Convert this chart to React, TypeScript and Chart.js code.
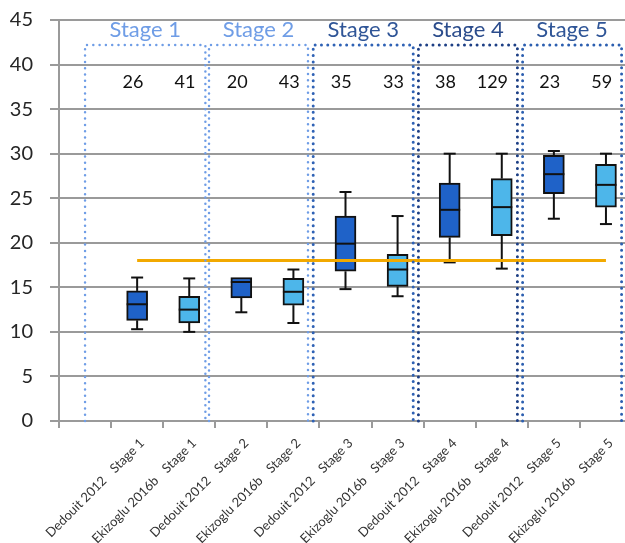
import React, { useEffect, useRef } from 'react';
import { Chart, registerables } from 'chart.js';

Chart.register(...registerables);

// ---- data ----
const sources = ['Dedouit 2012', 'Ekizoglu 2016b', 'Dedouit 2012', 'Ekizoglu 2016b', 'Dedouit 2012', 'Ekizoglu 2016b', 'Dedouit 2012', 'Ekizoglu 2016b', 'Dedouit 2012', 'Ekizoglu 2016b'];
const stageOf = ['Stage 1', 'Stage 1', 'Stage 2', 'Stage 2', 'Stage 3', 'Stage 3', 'Stage 4', 'Stage 4', 'Stage 5', 'Stage 5'];
const whiskerMin = [10.3, 10.0, 12.2, 11.0, 14.8, 14.0, 17.8, 17.1, 22.7, 22.1];
const q1 = [11.3, 11.0, 13.8, 13.0, 16.8, 15.1, 20.6, 20.8, 25.5, 24.0];
const median = [13.1, 12.5, 15.6, 14.5, 19.9, 17.0, 23.7, 24.0, 27.7, 26.5];
const q3 = [14.6, 14.0, 16.1, 16.0, 23.0, 18.7, 26.7, 27.2, 29.8, 28.8];
const whiskerMax = [16.1, 16.0, 16.1, 17.0, 25.7, 23.0, 30.0, 30.0, 30.3, 30.0];
const sampleSizes = ['26', '41', '20', '43', '35', '33', '38', '129', '23', '59'];
const threshold = 18;
const stageTitles = ['Stage 1', 'Stage 2', 'Stage 3', 'Stage 4', 'Stage 5'];
// stage frame spans in category-index units
const stageStart = [0.0, 2.38, 4.38, 6.4, 8.4];
const stageEnd = [2.31, 4.28, 6.3, 8.3, 10.3];
const stageTop = 42.2;
const stageTitleValue = 43.9;
const sampleLabelValue = 38.0;
const yTicksMax = 45;
const yTicksStep = 5;

// ---- styles ----
const darkBox = '#1f62c8';
const lightBox = '#4db6ea';
const stageFrameColors = ['#6f9de6', '#6f9de6', '#2f62b5', '#1d3f85', '#2c5fb0'];
const stageTitleColors = ['#6f9de6', '#6f9de6', '#2f5597', '#2b4c8c', '#2f5597'];
const gridColor = '#9a9a9a';
const FONT = 'Lato, "Open Sans", sans-serif';

const labels = ['', ...sources.map((s, i) => s + ' ' + stageOf[i])];

const boxPlugin = {
  id: 'boxExtras',
  afterDatasetDraw(chart: any, args: any) {
    if (args.index !== 0) return;
    const { ctx, scales } = chart;
    const x = scales.x;
    const y = scales.y;
    const meta = chart.getDatasetMeta(0);
    ctx.save();
    ctx.strokeStyle = '#111';
    ctx.lineWidth = 2;
    ctx.lineCap = 'butt';
    const cap = 6;
    for (let i = 0; i < q1.length; i++) {
      const cx = x.getPixelForValue(i + 1);
      const el = meta.data[i + 1];
      const half = el ? el.width / 2 : 10.5;
      const line = (x1: number, y1: number, x2: number, y2: number) => {
        ctx.beginPath();
        ctx.moveTo(x1, y1);
        ctx.lineTo(x2, y2);
        ctx.stroke();
      };
      if (whiskerMax[i] > q3[i]) {
        line(cx, y.getPixelForValue(q3[i]), cx, y.getPixelForValue(whiskerMax[i]));
        line(cx - cap, y.getPixelForValue(whiskerMax[i]), cx + cap, y.getPixelForValue(whiskerMax[i]));
      }
      if (whiskerMin[i] < q1[i]) {
        line(cx, y.getPixelForValue(q1[i]), cx, y.getPixelForValue(whiskerMin[i]));
        line(cx - cap, y.getPixelForValue(whiskerMin[i]), cx + cap, y.getPixelForValue(whiskerMin[i]));
      }
      line(cx - half, y.getPixelForValue(median[i]), cx + half, y.getPixelForValue(median[i]));
    }
    ctx.restore();
  },
};

const overlayPlugin = {
  id: 'overlay',
  afterDraw(chart: any) {
    const { ctx, scales } = chart;
    const x = scales.x;
    const y = scales.y;
    ctx.save();
    // stage frames
    for (let s = 0; s < stageTitles.length; s++) {
      const l = x.getPixelForValue(stageStart[s]);
      const r = x.getPixelForValue(stageEnd[s]);
      const t = y.getPixelForValue(stageTop);
      const b = y.getPixelForValue(0);
      ctx.strokeStyle = stageFrameColors[s];
      ctx.lineWidth = s < 2 ? 2.5 : 3;
      ctx.lineCap = 'round';
      ctx.setLineDash([0, 6.3]);
      ctx.beginPath();
      ctx.moveTo(l, b);
      ctx.lineTo(l, t);
      ctx.lineTo(r, t);
      ctx.lineTo(r, b);
      ctx.stroke();
      ctx.setLineDash([]);
      // title
      ctx.fillStyle = stageTitleColors[s];
      ctx.font = '22px ' + FONT;
      ctx.textAlign = 'center';
      ctx.textBaseline = 'middle';
      ctx.fillText(stageTitles[s], (l + r) / 2, y.getPixelForValue(stageTitleValue));
    }
    // sample sizes
    ctx.fillStyle = '#111';
    ctx.font = '18px ' + FONT;
    ctx.textAlign = 'right';
    ctx.textBaseline = 'middle';
    for (let i = 0; i < sampleSizes.length; i++) {
      ctx.fillText(sampleSizes[i], x.getPixelForValue(i + 1.12), y.getPixelForValue(sampleLabelValue));
    }
    // x labels
    ctx.fillStyle = '#333';
    ctx.font = '13px ' + FONT;
    ctx.textAlign = 'right';
    ctx.textBaseline = 'middle';
    for (let i = 0; i < sources.length; i++) {
      const cx = x.getPixelForValue(i + 1);
      ctx.save();
      ctx.translate(cx + 5, x.top + 20);
      ctx.rotate(-Math.PI / 4);
      ctx.fillText(stageOf[i], 0, 0);
      const w = ctx.measureText(stageOf[i]).width;
      ctx.fillText(sources[i], -(w + 11), 0);
      ctx.restore();
    }
    ctx.restore();
  },
};

export default function App() {
  const ref = useRef<HTMLCanvasElement>(null);
  useEffect(() => {
    Chart.defaults.font.family = FONT;
    const chart = new Chart(ref.current as HTMLCanvasElement, {
      type: 'bar',
      data: {
        labels,
        datasets: [
          {
            type: 'bar',
            data: [null, ...q1.map((v, i) => [v, q3[i]])] as any,
            backgroundColor: ['transparent', ...q1.map((_, i) => (i % 2 === 0 ? darkBox : lightBox))],
            borderColor: '#111',
            borderWidth: 2,
            borderSkipped: false,
            barThickness: 21,
            order: 1,
          } as any,
          {
            type: 'line',
            data: [null, ...q1.map(() => threshold)],
            borderColor: '#f2a900',
            borderWidth: 3,
            pointRadius: 0,
            fill: false,
            order: 0,
          } as any,
        ],
      },
      options: {
        responsive: false,
        animation: false,
        devicePixelRatio: 1,
        layout: { padding: { top: 20, right: 8, left: 0, bottom: 0 } },
        plugins: { legend: { display: false }, tooltip: { enabled: false } },
        scales: {
          x: {
            type: 'category',
            offset: true,
            grid: {
              display: true,
              drawOnChartArea: false,
              drawTicks: true,
              tickLength: 7,
              offset: true,
              color: gridColor,
              lineWidth: 2,
            },
            border: { color: gridColor, width: 2 },
            ticks: { display: false },
            afterFit(s: any) {
              s.height = 122;
            },
          },
          y: {
            min: 0,
            max: yTicksMax,
            ticks: { stepSize: yTicksStep, font: { size: 20, family: FONT }, color: '#262626', padding: 17 },
            grid: { color: gridColor, lineWidth: 2, tickLength: 9 },
            border: { color: gridColor, width: 2 },
            afterFit(s: any) {
              s.width = 59;
              s.paddingTop = 0;
              s.paddingBottom = 0;
            },
          },
        },
      },
      plugins: [boxPlugin, overlayPlugin],
    });
    return () => chart.destroy();
  }, []);
  return (
    <div style={{ position: 'fixed', left: 0, top: 0, width: 625, height: 543, overflow: 'hidden', background: '#fff' }}>
      <canvas ref={ref} width={640} height={543} style={{ display: 'block', width: 640, height: 543 }} />
    </div>
  );
}
